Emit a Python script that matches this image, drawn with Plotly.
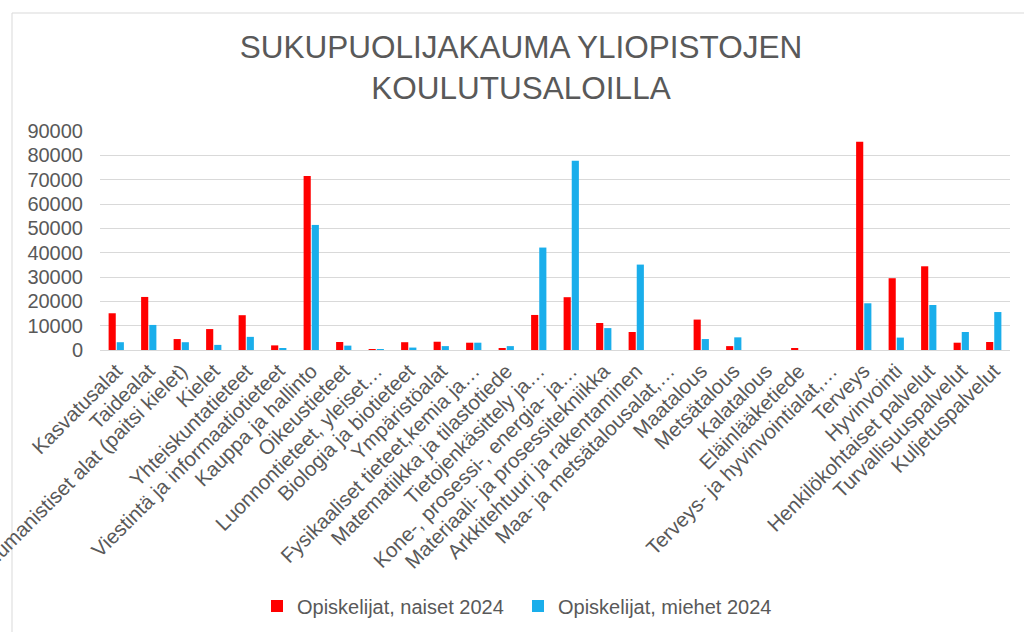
import plotly.graph_objects as go

categories = [
    "Kasvatusalat", "Taidealat", "Humanistiset alat (paitsi kielet)", "Kielet",
    "Yhteiskuntatieteet", "Viestintä ja informaatiotieteet", "Kauppa ja hallinto",
    "Oikeustieteet", "Luonnontieteet, yleiset…", "Biologia ja biotieteet",
    "Ympäristöalat", "Fysikaaliset tieteet,kemia ja…", "Matematiikka ja tilastotiede",
    "Tietojenkäsittely ja…", "Kone-, prosessi-, energia- ja…",
    "Materiaali- ja prosessitekniikka", "Arkkitehtuuri ja rakentaminen",
    "Maa- ja metsätalousalat,…", "Maatalous", "Metsätalous", "Kalatalous",
    "Eläinlääketiede", "Terveys- ja hyvinvointialat,…", "Terveys", "Hyvinvointi",
    "Henkilökohtaiset palvelut", "Turvallisuuspalvelut", "Kuljetuspalvelut",
]

naiset_2024 = [15100, 21800, 4500, 8600, 14300, 1900, 71500, 3300, 200, 3200,
               3400, 3000, 800, 14400, 21700, 11100, 7400, 0, 12500, 1600, 0,
               600, 0, 85600, 29500, 34400, 3000, 3300]
miehet_2024 = [3200, 10300, 3200, 2100, 5400, 700, 51400, 1800, 300, 1000,
               1600, 3000, 1600, 42100, 77800, 9000, 35100, 0, 4500, 5200, 0,
               0, 0, 19200, 5100, 18500, 7400, 15600]

y_ticks = [0, 10000, 20000, 30000, 40000, 50000, 60000, 70000, 80000, 90000]

grey = "#595959"
font_family = "Liberation Sans, Arial, sans-serif"

fig = go.Figure()
fig.add_bar(x=categories, y=naiset_2024, name="Opiskelijat, naiset 2024",
            marker=dict(color="#FF0000", line=dict(width=0)))
fig.add_bar(x=categories, y=miehet_2024, name="Opiskelijat, miehet 2024",
            marker=dict(color="#1AAEEB", line=dict(width=0)))

L, R, T, B = 100, 14, 131, 282
pw = 1024 - L - R
ph = 632 - T - B

def px_x(px):
    return (px - L) / pw

def px_y(py):
    return (632 - B - py) / ph

fig.update_layout(
    template="none",
    width=1024, height=632,
    margin=dict(l=L, r=R, t=T, b=B, autoexpand=False),
    paper_bgcolor="white", plot_bgcolor="white",
    barmode="group", bargap=0.5, bargroupgap=0.12,
    font=dict(family=font_family, color=grey),
    title=dict(
        text="SUKUPUOLIJAKAUMA YLIOPISTOJEN<br>KOULUTUSALOILLA",
        x=521 / 1024, xanchor="center", xref="container",
        y=1 - 58 / 632, yanchor="top", yref="container",
        font=dict(size=31.5, color=grey, family=font_family),
    ),
    xaxis=dict(
        tickangle=-45, automargin=False, showgrid=False,
        showline=True, linecolor="#D9D9D9", linewidth=1,
        ticks="", tickfont=dict(size=20.5, color=grey),
        range=[-0.5, len(categories) - 0.5],
    ),
    yaxis=dict(
        range=[0, 90000], tickvals=y_ticks, ticktext=[str(v) for v in y_ticks],
        automargin=False, showgrid=True, gridcolor="#D9D9D9", gridwidth=1.3,
        zeroline=True, zerolinecolor="#D9D9D9", zerolinewidth=1.3,
        showline=False, ticks="", tickfont=dict(size=20, color=grey),
        ticklabelstandoff=16,
    ),
    legend=dict(
        orientation="h", xref="container", yref="container",
        x=257 / 1024, xanchor="left", y=(632 - 606) / 632, yanchor="middle",
        font=dict(size=20, color=grey), itemwidth=30,
        traceorder="normal", entrywidth=216,
    ),
    showlegend=True,
    shapes=[dict(
        type="rect", xref="paper", yref="paper",
        x0=px_x(12), x1=px_x(1040), y0=px_y(700), y1=px_y(13),
        line=dict(color="#D9D9D9", width=1), fillcolor="rgba(0,0,0,0)", layer="below",
    )],
)

fig.write_html("out.html", config={"displayModeBar": False},
               post_script="document.body.style.margin='0px';")
